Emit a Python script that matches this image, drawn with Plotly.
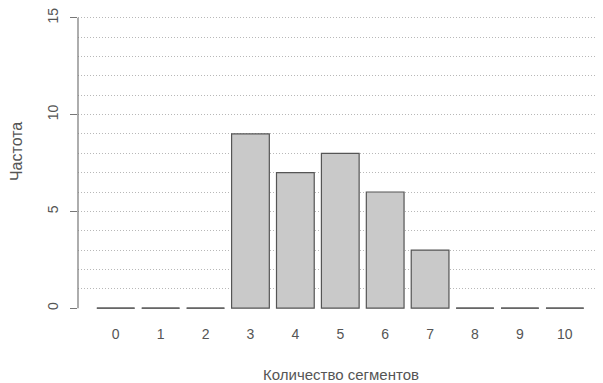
import plotly.graph_objects as go

segments = [0, 1, 2, 3, 4, 5, 6, 7, 8, 9, 10]
counts = [0, 0, 0, 9, 7, 8, 6, 3, 0, 0, 0]
y_ticks = [0, 5, 10, 15]
grid_vals = list(range(1, 16))

BAR_W = 0.84
text_col = "#555555"
font_fam = "Liberation Sans, Arial, sans-serif"

fig = go.Figure()
fig.add_trace(go.Bar(
    x=segments, y=counts, width=BAR_W,
    marker=dict(color="#c9c9c9", line=dict(color="#555555", width=1.2)),
    showlegend=False, hoverinfo="skip",
))

# zero-height bars drawn as flat lines (as R barplot does)
zx, zy = [], []
for s, c in zip(segments, counts):
    if c == 0:
        zx += [s - BAR_W / 2, s + BAR_W / 2, None]
        zy += [0, 0, None]
fig.add_trace(go.Scatter(x=zx, y=zy, mode="lines",
                         line=dict(color="#666666", width=1.5),
                         showlegend=False, hoverinfo="skip", cliponaxis=False))

# helper trace for grid axis
fig.add_trace(go.Scatter(x=[segments[0]], y=[0], yaxis="y2", mode="markers",
                         marker=dict(opacity=0), showlegend=False, hoverinfo="skip"))

yr = [-0.25, 15.3]
# page body has an 8px margin, so the figure is sized 8px smaller
fig.update_layout(
    width=595, height=375,
    margin=dict(l=70, r=0, t=4, b=70),
    plot_bgcolor="white", paper_bgcolor="white",
    font=dict(family=font_fam, color=text_col, size=13),
    xaxis=dict(
        range=[-0.84, 10.85], tickmode="array", tickvals=segments,
        ticktext=[str(s) for s in segments], showgrid=False, zeroline=False,
        showline=False, ticks="", tickfont=dict(size=14, color=text_col),
        ticklabelstandoff=11, automargin=False,
    ),
    yaxis=dict(
        range=yr, tickmode="array", tickvals=y_ticks,
        ticktext=[str(v) for v in y_ticks], tickangle=-90,
        showgrid=False, zeroline=False, showline=False,
        ticks="outside", ticklen=7, tickcolor="#777777", tickwidth=1.2,
        tickfont=dict(size=14, color=text_col), automargin=False,
        ticklabelstandoff=6, ticklabeloverflow="allow",
    ),
    yaxis2=dict(
        range=yr, overlaying="y", side="left", tickmode="array",
        tickvals=grid_vals, showticklabels=False, ticks="",
        showgrid=True, gridcolor="#b8b8b8", griddash="1px,2px", gridwidth=1,
        zeroline=False, showline=False, automargin=False,
    ),
    shapes=[dict(type="line", xref="paper", yref="y", x0=0, x1=0,
                 y0=y_ticks[0], y1=y_ticks[-1],
                 line=dict(color="#777777", width=1.2))],
    annotations=[
        dict(text="Количество сегментов", xref="paper", yref="paper",
             x=0.5, y=-0.203, xanchor="center", yanchor="middle",
             showarrow=False, font=dict(size=15, color=text_col)),
        dict(text="Частота", xref="paper", yref="paper",
             x=-0.116, y=0.535, xanchor="center", yanchor="middle", textangle=-90,
             showarrow=False, font=dict(size=16, color=text_col)),
    ],
    bargap=0.16,
)

fig.write_html("out.html")
